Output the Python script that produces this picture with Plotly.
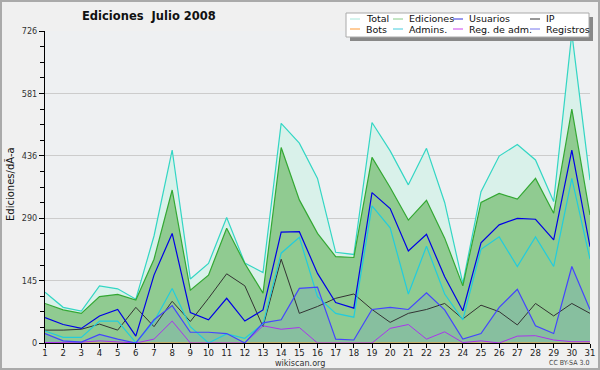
import plotly.graph_objects as go

days = list(range(1, 32))
total = [118, 83, 74, 133, 126, 102, 249, 449, 149, 185, 292, 186, 164, 511, 465, 383,
         211, 206, 513, 447, 368, 453, 327, 139, 352, 435, 462, 426, 329, 721, 379]
ediciones = [92, 77, 69, 108, 113, 100, 195, 356, 123, 158, 267, 185, 116, 455, 333, 255,
             201, 199, 432, 362, 286, 332, 244, 133, 327, 348, 335, 383, 302, 544, 298]
usuarios = [59, 43, 34, 63, 78, 16, 158, 255, 71, 54, 104, 51, 77, 258, 259, 162,
            94, 81, 350, 313, 214, 253, 154, 75, 233, 275, 290, 288, 240, 449, 224]
ip = [30, 30, 32, 44, 30, 83, 38, 97, 50, 104, 161, 133, 38, 195, 69, 85,
      104, 114, 78, 48, 69, 78, 92, 56, 88, 73, 42, 92, 63, 92, 69]
bots = [0] * 31
admins = [28, 13, 13, 51, 51, 1, 50, 127, 38, 0, 21, 11, 44, 209, 246, 108,
          69, 60, 319, 268, 114, 225, 114, 54, 218, 247, 178, 247, 178, 383, 195]
reg_adm = [1, 2, 2, 5, 2, 0, 9, 51, 0, 0, 0, 0, 40, 32, 36, 0,
           0, 0, 0, 34, 43, 9, 26, 1, 5, 0, 16, 17, 7, 3, 3]
registros = [22, 5, 2, 20, 9, 0, 54, 87, 25, 25, 22, 0, 47, 54, 127, 130,
             9, 7, 78, 83, 78, 117, 77, 9, 22, 83, 125, 40, 22, 178, 78]

y_max = 726
y_ticks = [0, 145.2, 290.4, 435.6, 580.8, 726]
y_ticktext = ["0", "145", "290", "436", "581", "726"]

W, H = 600, 370
L, R, T, B = 45, 590, 31, 343
FONT = "DejaVu Sans"
NARROW = "DejaVu Sans Condensed, Liberation Sans Narrow, Liberation Sans, sans-serif"

def px(x):
    return (x - L) / (R - L)

def py(y):
    return (B - y) / (B - T)

fig = go.Figure()
fig.add_trace(go.Scatter(x=days, y=total, mode="lines", fill="tozeroy",
                         fillcolor="#d9f1ea", line=dict(color="#33d6c4", width=1.2)))
fig.add_trace(go.Scatter(x=days, y=ediciones, mode="lines", fill="tozeroy",
                         fillcolor="#90cb91", line=dict(color="#33a833", width=1.2)))
fig.add_trace(go.Scatter(x=days, y=registros, mode="lines", fill="tozeroy",
                         fillcolor="#87bf9f", line=dict(color="rgba(0,0,0,0)", width=0)))
fig.add_trace(go.Scatter(x=days, y=bots, mode="lines", line=dict(color="#ff9933", width=1)))
fig.add_trace(go.Scatter(x=days, y=ip, mode="lines", line=dict(color="#333333", width=1)))
fig.add_trace(go.Scatter(x=days, y=admins, mode="lines", line=dict(color="#22ccdd", width=1.2)))
fig.add_trace(go.Scatter(x=days, y=reg_adm, mode="lines", line=dict(color="#aa33ee", width=1)))
fig.add_trace(go.Scatter(x=days, y=registros, mode="lines", line=dict(color="#4444ff", width=1.2)))
fig.add_trace(go.Scatter(x=days, y=usuarios, mode="lines", line=dict(color="#0000e6", width=1.2)))

shapes = []
annotations = []

# outer frame
shapes.append(dict(type="rect", xref="paper", yref="paper", x0=px(1), x1=px(599),
                   y0=py(1), y1=py(369), line=dict(color="#aaaaaa", width=2),
                   fillcolor="rgba(0,0,0,0)", layer="above"))

# custom legend
shapes.append(dict(type="rect", xref="paper", yref="paper", x0=px(350), x1=px(593),
                   y0=py(17), y1=py(41), fillcolor="#888888", line=dict(width=0), layer="above"))
shapes.append(dict(type="rect", xref="paper", yref="paper", x0=px(346), x1=px(589),
                   y0=py(13), y1=py(37), fillcolor="#ffffff", line=dict(color="#aaaaaa", width=1),
                   layer="above"))
legend_items = [
    ("Total", "#a8e8dc", 350, 19), ("Ediciones", "#88cc88", 393, 19),
    ("Usuarios", "#3333dd", 453, 19), ("IP", "#333333", 530, 19),
    ("Bots", "#ff9933", 350, 29), ("Admins.", "#44ccdd", 393, 29),
    ("Reg. de adm.", "#cc44ee", 453, 29), ("Registros", "#7777ee", 530, 29),
]
for name, col, x0, yy in legend_items:
    shapes.append(dict(type="line", xref="paper", yref="paper", x0=px(x0), x1=px(x0 + 10),
                       y0=py(yy), y1=py(yy), line=dict(color=col, width=1), layer="above"))
    annotations.append(dict(text=name, xref="paper", yref="paper", x=px(x0 + 14), y=py(yy),
                            xanchor="left", yanchor="middle", showarrow=False,
                            font=dict(size=9.5, color="#111111", family=FONT)))

annotations.append(dict(text="<b>Ediciones  Julio 2008</b>", xref="paper", yref="paper",
                        x=px(149), y=py(16), xanchor="center", yanchor="middle", showarrow=False,
                        font=dict(size=11.5, color="#111111", family=FONT)))
annotations.append(dict(text="wikiscan.org", xref="paper", yref="paper",
                        x=px(300), y=py(362.5), xanchor="center", yanchor="middle", showarrow=False,
                        font=dict(size=9, color="#333333", family=NARROW)))
annotations.append(dict(text="CC BY-SA 3.0", xref="paper", yref="paper",
                        x=px(569), y=py(362.5), xanchor="center", yanchor="middle", showarrow=False,
                        font=dict(size=7, color="#444444", family=NARROW)))
annotations.append(dict(text="Ediciones/dÃ-a", xref="paper", yref="paper",
                        x=px(10), y=py(184), xanchor="center", yanchor="middle", showarrow=False,
                        textangle=-90, font=dict(size=10, color="#111111", family=FONT)))

fig.update_layout(
    width=W, height=H,
    margin=dict(l=L, r=W - R, t=T, b=H - B, autoexpand=False),
    paper_bgcolor="#f0f0f0", plot_bgcolor="#eef0f2",
    showlegend=False, hovermode=False,
    font=dict(family=FONT, color="#222222"),
    shapes=shapes, annotations=annotations,
    xaxis=dict(range=[1, 31], tickmode="array", tickvals=days, ticktext=[str(d) for d in days],
               showgrid=False, zeroline=False, showline=True, linecolor="#000000", linewidth=1,
               ticks="outside", ticklen=4, tickcolor="#000000", automargin=False,
               ticklabelstandoff=-3,
               tickfont=dict(size=9.5, color="#222222", family=NARROW)),
    yaxis=dict(range=[0, y_max], tickmode="array", tickvals=y_ticks, ticktext=y_ticktext,
               showgrid=True, gridcolor="#cccccc", gridwidth=1, zeroline=False,
               showline=True, linecolor="#000000", linewidth=1, automargin=False,
               ticks="outside", ticklen=5, tickcolor="#000000",
               tickfont=dict(size=9, color="#333333", family=NARROW),
               minor=dict(tickmode="linear", tick0=0, dtick=36.3, ticks="outside",
                          ticklen=4, tickcolor="#000000", showgrid=False)),
)

fig.write_html("out.html", config={"displayModeBar": False},
               post_script="document.body.style.margin='0';document.body.style.padding='0';")
